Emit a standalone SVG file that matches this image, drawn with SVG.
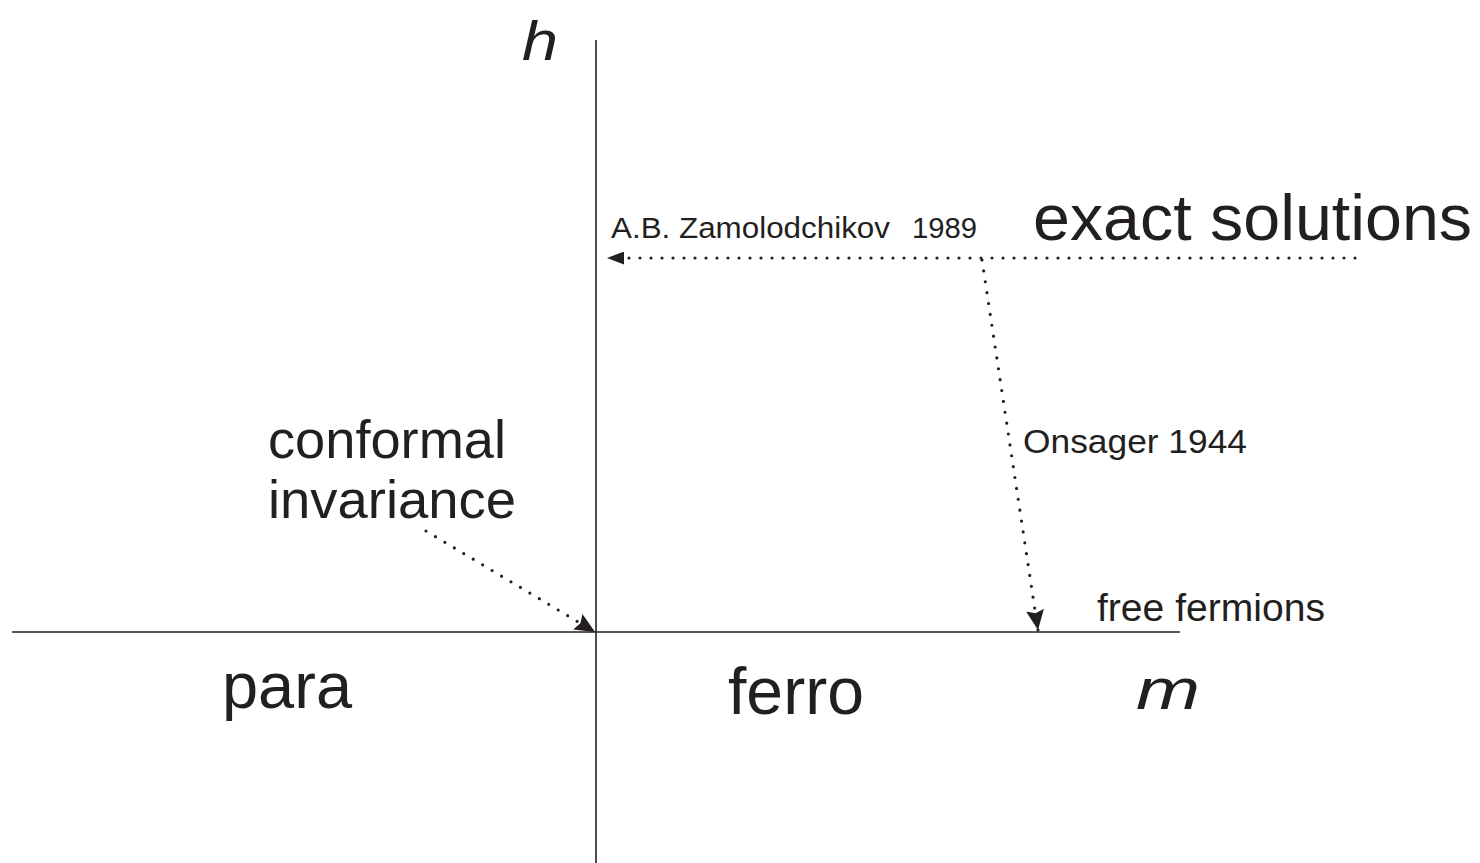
<svg xmlns="http://www.w3.org/2000/svg" width="1480" height="863" viewBox="0 0 1480 863">
<defs>
<style>
text{font-family:"Liberation Sans",Arial,sans-serif;fill:#231f20}
.ax{stroke:#231f20;stroke-width:1.6;fill:none}
.dot{stroke:#231f20;stroke-width:3.2;stroke-linecap:round;stroke-dasharray:0 11;fill:none}
.it{font-style:italic}
</style>
<marker id="ah" viewBox="0 0 20 18" refX="20" refY="9" markerWidth="20" markerHeight="18" markerUnits="userSpaceOnUse" orient="auto">
<path d="M0,0 L20,9 L0,18 L3,9 Z" fill="#231f20"/>
</marker>
<marker id="ah2" viewBox="0 0 17 13" refX="17" refY="6.5" markerWidth="17" markerHeight="13" markerUnits="userSpaceOnUse" orient="auto">
<path d="M0,0 L17,6.5 L0,13 Z" fill="#231f20"/>
</marker>
</defs>
<rect width="1480" height="863" fill="#fff"/>
<g id="axes">
<line class="ax" x1="596" y1="40" x2="596" y2="863"/>
<line class="ax" x1="12" y1="632" x2="1180" y2="632"/>
</g>
<g id="connectors">
<path class="dot" d="M1355,258 L607,258" marker-end="url(#ah2)"/>
<path class="dot" d="M982,260 L1038,630" marker-end="url(#ah)"/>
<path class="dot" d="M426,531 L595,632" marker-end="url(#ah)"/>
</g>
<g id="label-h"><text class="it" x="522" y="60" font-size="56" textLength="36" lengthAdjust="spacingAndGlyphs">h</text></g>
<g id="label-m"><text class="it" x="1136" y="709" font-size="58" textLength="64" lengthAdjust="spacingAndGlyphs">m</text></g>
<g id="exact-solutions"><text x="1033" y="240" font-size="64" textLength="439" lengthAdjust="spacingAndGlyphs">exact solutions</text></g>
<g id="zamolodchikov"><text x="611" y="238" font-size="29" textLength="279" lengthAdjust="spacingAndGlyphs">A.B. Zamolodchikov</text><text x="912" y="238" font-size="29" textLength="65" lengthAdjust="spacingAndGlyphs">1989</text></g>
<g id="onsager"><text x="1023" y="453" font-size="34" textLength="224" lengthAdjust="spacingAndGlyphs">Onsager 1944</text></g>
<g id="free-fermions"><text x="1097" y="621" font-size="38" textLength="228" lengthAdjust="spacingAndGlyphs">free fermions</text></g>
<g id="conformal-invariance"><text x="268" y="458" font-size="54" textLength="238" lengthAdjust="spacingAndGlyphs">conformal</text><text x="268" y="518" font-size="54" textLength="248" lengthAdjust="spacingAndGlyphs">invariance</text></g>
<g id="para"><text x="222" y="708" font-size="64" textLength="130" lengthAdjust="spacingAndGlyphs">para</text></g>
<g id="ferro"><text x="728" y="714" font-size="66" textLength="136" lengthAdjust="spacingAndGlyphs">ferro</text></g>
</svg>
